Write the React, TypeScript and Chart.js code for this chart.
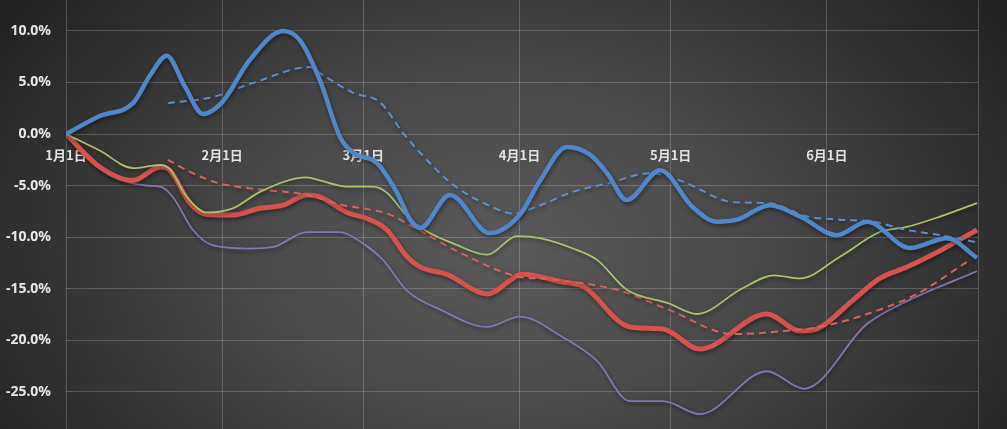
import React, { useEffect, useRef } from "react";
import { Chart, registerables } from "chart.js";

Chart.register(...registerables);

const monthTickDays = [0, 31, 59, 90, 120, 151, 181];
const monthTickLabels = ["1月1日", "2月1日", "3月1日", "4月1日", "5月1日", "6月1日", ""];
const yTickValues = [-25, -20, -15, -10, -5, 0, 5, 10];

const blueDays = [0, 6.7, 13.3, 16.7, 20.0, 23.6, 27.2, 31.0, 36.5, 43.1, 46.4, 50.4, 54.4, 57.0, 61.7, 65.7, 68.3, 70.3, 76.2, 84.1, 90.1, 94.1, 99.4, 104.0, 107.4, 111.3, 117.9, 124.4, 129.2, 133.2, 139.7, 145.7, 153.0, 159.0, 167.5, 174.8, 180.8];
const blueValues = [0, 1.75, 3.0, 5.7, 7.6, 4.6, 1.95, 3.1, 7.2, 10.0, 9.1, 5.2, -0.3, -1.8, -2.8, -5.7, -8.3, -9.1, -5.9, -9.6, -7.8, -4.5, -1.25, -2.0, -3.8, -6.4, -3.5, -7.1, -8.5, -8.3, -6.9, -8.0, -9.8, -8.5, -11.05, -10.1, -12.0];

const blueAvgDays = [20.2, 29.2, 37.1, 48.4, 50.4, 57.0, 62.3, 66.9, 71.6, 76.8, 84.7, 88.7, 94.1, 100.6, 107.4, 115.9, 121.9, 132.4, 139.7, 147.1, 153.6, 160.2, 166.9, 173.5, 180.8];
const blueAvgValues = [3.0, 3.6, 4.95, 6.5, 5.9, 4.0, 3.1, 0.1, -2.5, -4.9, -7.1, -7.7, -6.9, -5.6, -4.8, -3.8, -4.5, -6.6, -6.7, -8.0, -8.3, -8.5, -9.3, -9.8, -10.5];

const greenDays = [0, 6.7, 13.3, 18.7, 20.6, 24.0, 28.0, 33.1, 38.5, 47.8, 50.4, 55.8, 60.9, 63.7, 68.3, 72.2, 76.8, 83.6, 89.5, 94.1, 100.6, 105.4, 111.3, 119.5, 125.2, 134.1, 140.5, 145.7, 153.6, 161.5, 166.9, 173.5, 180.8];
const greenValues = [0, -1.6, -3.3, -3.0, -3.4, -6.1, -7.6, -7.2, -5.6, -4.2, -4.5, -5.1, -5.1, -5.7, -8.3, -9.6, -10.6, -11.7, -9.9, -10.1, -11.1, -12.2, -15.1, -16.4, -17.45, -15.0, -13.7, -14.0, -11.9, -9.5, -9.0, -8.0, -6.7];

const redDays = [0, 6.7, 13.3, 18.7, 20.6, 24.6, 28.0, 33.1, 38.5, 43.1, 47.8, 50.4, 55.8, 60.3, 63.7, 67.7, 70.3, 75.6, 83.6, 90.7, 98.6, 102.6, 111.9, 118.5, 125.8, 139.1, 145.7, 149.0, 156.2, 161.5, 166.9, 173.5, 180.8];
const redValues = [0, -3.2, -4.5, -3.2, -3.5, -6.7, -7.8, -7.85, -7.2, -6.9, -5.9, -6.1, -7.6, -8.3, -9.3, -11.9, -12.9, -13.6, -15.5, -13.6, -14.35, -14.75, -18.7, -18.9, -20.85, -17.45, -19.1, -18.9, -16.1, -14.0, -12.9, -11.3, -9.3];

const redAvgDays = [20.2, 25.2, 30.6, 37.1, 47.8, 55.0, 58.9, 63.7, 68.9, 78.2, 89.5, 95.5, 110.0, 119.3, 132.6, 142.5, 149.6, 159.0, 168.9, 178.8];
const redAvgValues = [-2.5, -3.8, -4.8, -5.3, -5.9, -6.9, -7.2, -7.7, -9.0, -11.5, -13.8, -14.05, -15.2, -16.97, -19.4, -19.1, -18.7, -17.45, -15.5, -12.4];

const purpleDays = [0, 4.2, 8.7, 16.1, 18.7, 21.2, 25.2, 29.2, 35.9, 41.1, 47.8, 54.4, 58.9, 62.9, 67.7, 74.2, 83.6, 90.1, 98.6, 105.4, 111.9, 118.5, 125.8, 139.1, 146.5, 159.0, 166.9, 180.8];
const purpleValues = [0, -2.2, -4.0, -5.0, -5.1, -6.1, -9.3, -10.8, -11.1, -10.95, -9.5, -9.5, -10.6, -12.2, -15.2, -17.0, -18.7, -17.7, -19.7, -22.0, -25.9, -25.9, -27.15, -23.0, -24.7, -18.4, -16.2, -13.3];

const zip = (xs: number[], ys: number[]) => xs.map((x, i) => ({ x, y: ys[i] }));

const shadowPlugin = {
  id: "lineShadow",
  beforeDatasetDraw(chart: any) {
    const ctx = chart.ctx;
    ctx.save();
    ctx.shadowColor = "rgba(0,0,0,0.45)";
    ctx.shadowBlur = 4;
    ctx.shadowOffsetX = 1;
    ctx.shadowOffsetY = 2;
  },
  afterDatasetDraw(chart: any) {
    chart.ctx.restore();
  },
};

const zeroPadding = (scale: any) => {
  scale.paddingTop = 0;
  scale.paddingBottom = 0;
  scale.paddingLeft = 0;
  scale.paddingRight = 0;
};

export default function App() {
  const canvasRef = useRef<HTMLCanvasElement | null>(null);

  useEffect(() => {
    document.body.style.margin = "0";
    const canvas = canvasRef.current;
    if (!canvas) return;
    const common = {
      pointRadius: 0,
      pointHoverRadius: 0,
      cubicInterpolationMode: "monotone" as const,
      fill: false,
    };
    const chart = new Chart(canvas, {
      type: "line",
      data: {
        datasets: [
          { ...common, label: "A", data: zip(blueDays, blueValues), borderColor: "#4f87c9", borderWidth: 4.5, order: 1 },
          { ...common, label: "A avg", data: zip(blueAvgDays, blueAvgValues), borderColor: "#5a8fd0", borderWidth: 2, borderDash: [7, 5], order: 2 },
          { ...common, label: "B", data: zip(greenDays, greenValues), borderColor: "#a6c46a", borderWidth: 1.8, order: 3 },
          { ...common, label: "C avg", data: zip(redAvgDays, redAvgValues), borderColor: "#d8625d", borderWidth: 2, borderDash: [7, 5], order: 4 },
          { ...common, label: "C", data: zip(redDays, redValues), borderColor: "#d5524e", borderWidth: 5, order: 5 },
          { ...common, label: "D", data: zip(purpleDays, purpleValues), borderColor: "#8a73b3", borderWidth: 1.8, order: 6 },
        ],
      },
      options: {
        responsive: false,
        animation: false,
        events: [],
        layout: { padding: { left: 0, right: 29, top: 0, bottom: 0 } },
        plugins: { legend: { display: false }, tooltip: { enabled: false } },
        scales: {
          x: {
            type: "linear",
            min: 0,
            max: 181,
            position: { y: 0 } as any,
            afterBuildTicks: (axis: any) => {
              axis.ticks = monthTickDays.map((v) => ({ value: v }));
            },
            afterFit: (scale: any) => {
              scale.height = 0;
              zeroPadding(scale);
            },
            ticks: {
              autoSkip: false,
              maxRotation: 0,
              padding: 13,
              color: "#e2e2e2",
              font: { family: "'Noto Sans CJK SC', 'Noto Sans'", size: 13, weight: "bold" },
              callback: (value: any) => {
                const i = monthTickDays.indexOf(Number(value));
                return i >= 0 ? monthTickLabels[i] : "";
              },
            },
            grid: { color: "rgba(255,255,255,0.2)", lineWidth: 1, drawTicks: false },
            border: { display: false },
          },
          y: {
            type: "linear",
            min: -28.6,
            max: 13,
            afterBuildTicks: (axis: any) => {
              axis.ticks = yTickValues.map((v) => ({ value: v }));
            },
            afterFit: (scale: any) => {
              scale.width = 66;
              zeroPadding(scale);
            },
            ticks: {
              padding: 15,
              color: "#e8e8e8",
              font: { family: "'Noto Sans'", size: 14, weight: "bold" },
              callback: (value: any) => Number(value).toFixed(1) + "%",
            },
            grid: { color: "rgba(255,255,255,0.2)", lineWidth: 1, drawTicks: false },
            border: { display: false },
          },
        },
      },
      plugins: [shadowPlugin],
    });
    return () => chart.destroy();
  }, []);

  return (
    <div
      style={{
        width: 1007,
        height: 429,
        background:
          "radial-gradient(ellipse 60% 95% at 50% 58%, #5a5a5a 0%, #4a4a4a 40%, #333333 75%, #222222 100%)",
      }}
    >
      <canvas ref={canvasRef} width={1007} height={429} style={{ display: "block" }} />
    </div>
  );
}
